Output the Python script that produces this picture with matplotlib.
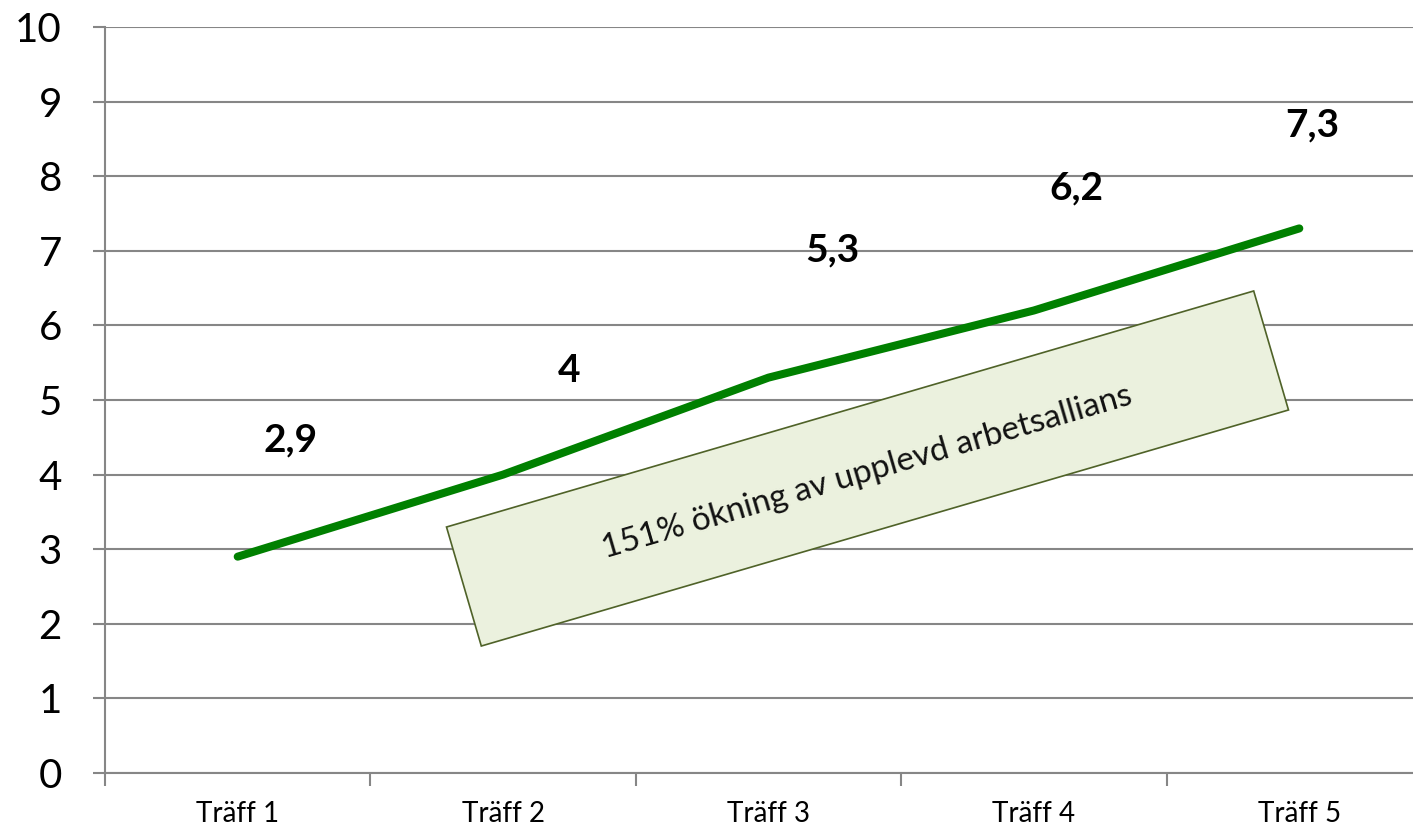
import matplotlib
matplotlib.use("Agg")
import matplotlib.pyplot as plt
from matplotlib.patches import Rectangle
from matplotlib.transforms import Affine2D

# data
categories = ["Träff 1", "Träff 2", "Träff 3", "Träff 4", "Träff 5"]
values = [2.9, 4.0, 5.3, 6.2, 7.3]
value_labels = ["2,9", "4", "5,3", "6,2", "7,3"]
# where each value label sits, relative to its point (category units, value units)
label_dx = [0.20, 0.25, 0.24, 0.16, 0.05]
label_dy = [1.56, 1.40, 1.71, 1.64, 1.39]
note_text = "151% ökning av upplevd arbetsallians"

plt.rcParams["font.family"] = ["Lato", "DejaVu Sans"]

W, H = 1413, 830
fig = plt.figure(figsize=(W / 100, H / 100), dpi=100)
ax = fig.add_axes([105 / W, 57 / H, 1327 / W, 746 / H])

grid_col = "#868686"
x = list(range(len(categories)))

ax.plot(x, values, color="#008000", lw=5.8, solid_capstyle="round",
        solid_joinstyle="round", zorder=3)

for i, v in enumerate(values):
    ax.text(x[i] + label_dx[i], v + label_dy[i], value_labels[i],
            ha="center", va="center", fontsize=28, fontweight="bold", zorder=4)

ax.set_xlim(-0.5, len(categories) - 0.5)
ax.set_ylim(0, 10)
ax.set_yticks(range(0, 11))
ax.set_yticklabels([str(t) for t in range(0, 11)], fontsize=29)
ax.set_xticks(x)
ax.set_xticklabels(categories, fontsize=20)
ax.set_xticks([i - 0.5 for i in range(len(categories) + 1)], minor=True)

ax.tick_params(axis="x", which="major", length=0, pad=20)
ax.tick_params(axis="x", which="minor", length=9, width=1.5, color=grid_col,
               direction="out")
ax.tick_params(axis="y", length=9, width=1.5, color=grid_col, pad=22)

ax.grid(axis="y", color=grid_col, lw=1.5, zorder=1)
ax.set_axisbelow(True)
for side in ["top", "right"]:
    ax.spines[side].set_visible(False)
for side in ["left", "bottom"]:
    ax.spines[side].set_color(grid_col)
    ax.spines[side].set_linewidth(1.5)

# rotated note box (pixel coordinates)
cx, cy, angle = 867.5, H - 468.5, 16.3
bw, bh = 841, 124
box = Rectangle((-bw / 2, -bh / 2), bw, bh, facecolor="#EBF1DE",
                edgecolor="#4F6228", lw=1.2,
                transform=Affine2D().rotate_deg(angle).translate(cx, cy))
fig.add_artist(box)
fig.text(cx / W, (cy - 4) / H, note_text, rotation=angle, rotation_mode="anchor",
         ha="center", va="center", fontsize=24, color="#111111")

fig.savefig("out.png", dpi=100)
